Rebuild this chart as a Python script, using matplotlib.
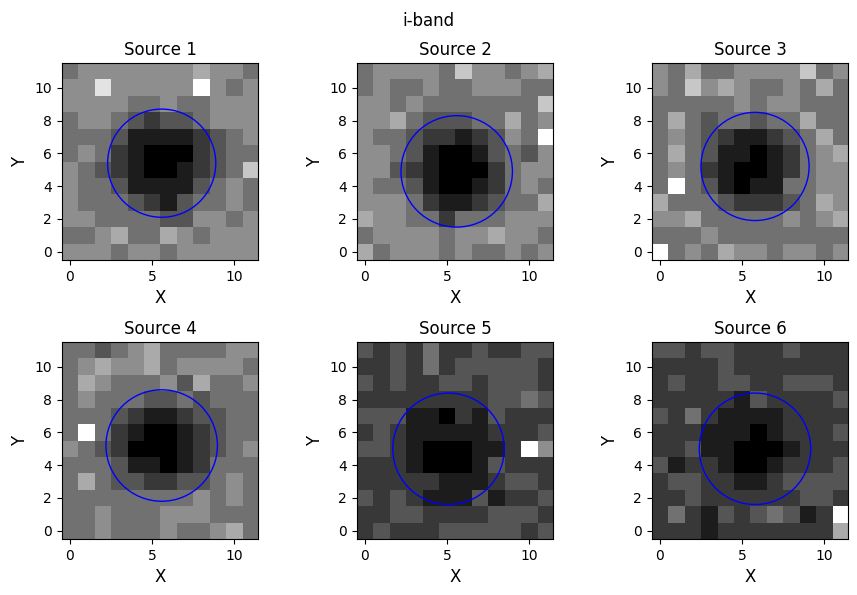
import numpy as np
import matplotlib
matplotlib.use("Agg")
import matplotlib.pyplot as plt
from matplotlib.patches import Circle

# pixel brightness (0 dark .. 9 bright), rows listed from top (y=11) to bottom (y=0)
src1 = """4 5 5 5 5 5 5 5 6 5 5 4
5 5 8 5 5 5 5 5 9 5 4 5
5 5 5 5 4 4 5 4 4 5 5 5
4 5 5 4 3 2 3 3 4 5 5 5
4 4 4 3 1 1 1 1 2 3 4 5
4 5 4 2 1 0 0 0 2 3 4 4
5 4 3 2 1 0 0 1 2 3 4 7
5 4 4 3 1 1 1 1 3 4 5 4
5 4 4 4 3 2 1 3 4 4 5 4
5 5 4 4 4 4 3 3 5 5 4 5
4 4 5 6 4 4 6 5 4 5 5 5
5 5 5 4 5 5 4 5 5 5 5 5"""
src2 = """4 5 5 5 5 4 7 5 5 4 5 6
4 5 4 4 5 4 4 5 5 5 4 4
5 5 4 5 4 4 4 4 4 4 4 7
5 5 6 4 3 3 3 4 4 6 4 5
5 4 4 3 2 2 1 2 3 5 4 9
5 5 4 3 1 0 0 1 3 4 3 5
5 5 3 2 1 0 0 0 2 4 5 5
5 4 4 3 1 0 0 1 2 4 5 4
5 5 5 4 2 1 1 2 3 4 4 6
6 5 5 4 4 2 4 4 4 5 5 5
4 5 5 5 5 4 5 5 6 5 5 4
6 4 5 5 5 4 5 4 4 5 4 5"""
src3 = """5 4 6 4 4 5 5 5 5 7 4 5
5 4 7 5 6 5 4 4 5 4 6 4
4 4 4 4 4 5 4 5 5 4 4 4
4 6 4 3 4 4 3 4 4 6 4 4
4 5 4 3 2 1 1 2 3 4 6 4
4 6 4 3 1 1 0 1 2 4 5 6
4 5 4 2 1 0 0 1 2 4 5 5
4 9 4 3 1 0 1 1 4 4 5 5
6 4 4 4 3 2 2 2 3 4 6 5
5 5 6 4 4 4 4 4 5 4 5 6
4 4 4 5 4 4 4 4 4 4 4 4
9 4 5 4 6 5 5 4 5 5 4 5"""
src4 = """4 4 3 4 5 6 4 4 4 4 5 5
4 5 6 5 5 6 4 5 5 5 5 4
4 6 5 4 4 4 5 3 6 4 4 5
4 5 4 4 4 3 3 4 3 4 4 4
4 4 4 3 2 1 1 2 3 3 4 4
4 9 4 2 1 0 0 1 2 3 4 4
5 4 3 2 0 0 0 1 2 3 4 5
4 4 4 3 1 1 0 1 2 4 4 4
4 6 4 3 3 2 2 3 3 4 5 4
4 4 4 4 4 4 4 4 5 4 5 4
4 4 5 4 4 4 5 5 5 4 4 4
4 4 5 4 4 4 5 4 4 5 6 4"""
src5 = """3 2 3 2 4 2 2 3 2 2 3 3
2 2 3 2 4 2 3 3 3 3 3 2
3 2 3 2 2 3 3 2 3 3 3 2
2 2 2 2 2 2 2 2 3 3 4 3
3 3 3 1 1 0 2 1 3 2 2 2
2 3 2 1 1 1 1 1 2 2 2 3
3 3 2 1 0 0 0 1 1 2 9 5
2 2 2 1 0 0 0 1 3 2 2 2
2 2 2 2 2 1 1 1 2 3 3 2
3 2 3 2 1 1 1 3 1 2 2 3
2 2 3 3 2 2 2 2 3 3 3 2
2 3 2 2 2 3 3 3 3 3 2 3"""
src6 = """3 3 2 3 3 2 2 2 3 2 2 2
2 2 2 2 3 2 2 2 2 2 2 2
2 3 2 2 3 3 2 2 3 3 3 2
2 2 2 2 2 1 3 2 2 2 2 3
3 2 4 2 1 1 1 1 2 2 2 2
2 2 2 1 1 1 0 1 2 2 2 3
2 2 3 1 1 0 0 0 1 2 2 2
3 1 2 2 1 0 0 1 2 2 2 3
2 3 3 2 2 1 1 2 3 3 3 3
2 2 3 2 2 2 2 2 2 3 3 2
2 4 2 1 3 2 3 4 3 1 2 9
2 2 2 1 2 2 2 2 2 2 2 6"""

images = [src1, src2, src3, src4, src5, src6]
centers_x = [5.6, 5.6, 5.8, 5.6, 5.1, 5.8]
centers_y = [5.4, 4.9, 5.2, 5.2, 5.0, 5.0]
radii = [3.3, 3.4, 3.3, 3.4, 3.4, 3.4]

fig, axes = plt.subplots(2, 3, figsize=(8.57, 5.95), dpi=100)
fig.subplots_adjust(left=0.072, right=0.99, top=0.896, bottom=0.092, wspace=0.5, hspace=0.4)
for i, ax in enumerate(axes.flat):
    img = np.flipud(np.array([[float(v) for v in row.split()] for row in images[i].splitlines()]))
    ax.imshow(img, cmap="gray", origin="lower", vmin=0, vmax=9)
    ax.add_patch(Circle((centers_x[i], centers_y[i]), radii[i], fill=False, color="blue", lw=1))
    ax.set_title("Source {}".format(i + 1))
    ax.set_xlabel("X", fontsize=12)
    ax.set_ylabel("Y", fontsize=12)
fig.suptitle("i-band")
plt.savefig("out.png")
